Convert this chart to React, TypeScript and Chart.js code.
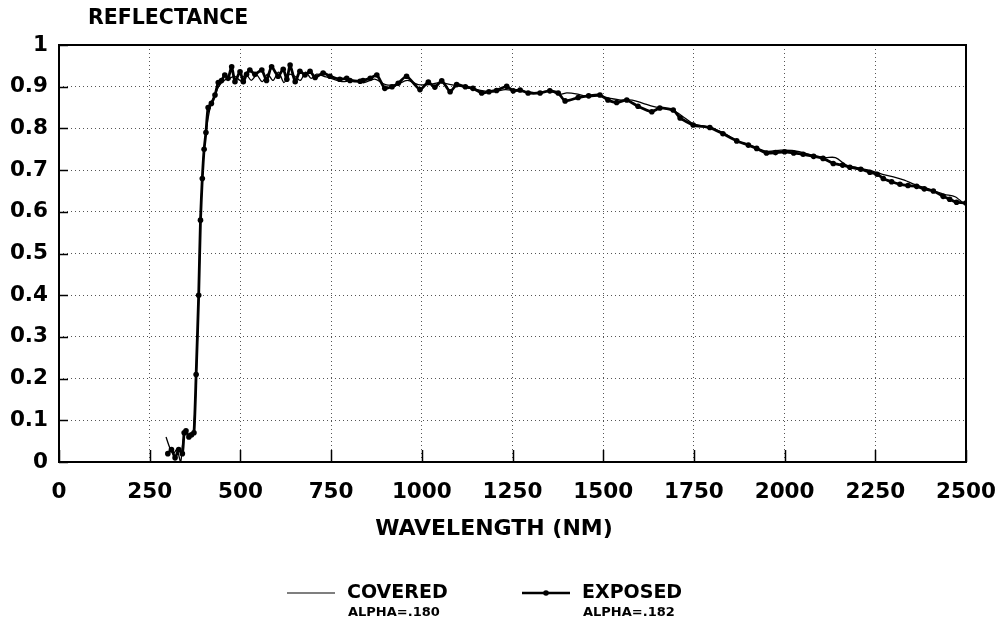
import React, { useEffect, useRef } from "react";
import { Chart, registerables } from "chart.js";

Chart.register(...registerables);

const xTicks = [0, 250, 500, 750, 1000, 1250, 1500, 1750, 2000, 2250, 2500];
const yTicks = [0, 0.1, 0.2, 0.3, 0.4, 0.5, 0.6, 0.7, 0.8, 0.9, 1];

const coveredNm = [
  295, 305, 315, 325, 335, 342, 350, 360, 370, 378, 385, 390, 395, 400, 410, 420, 430, 440, 455, 470,
  485, 500, 515, 530, 545, 560, 575, 590, 605, 620, 635, 650, 665, 680, 695, 710, 730, 750, 780, 810,
  840, 870, 900, 930, 960, 990, 1020, 1050, 1080, 1110, 1140, 1170, 1200, 1230, 1260, 1290, 1320, 1350,
  1380, 1400, 1430, 1460, 1490, 1520, 1550, 1580, 1610, 1640, 1670, 1700, 1725, 1750, 1790, 1830, 1870,
  1910, 1950, 1990, 2020, 2050, 2080, 2110, 2140, 2170, 2200, 2240, 2270, 2300, 2330, 2360, 2400, 2440,
  2470, 2500,
];
const coveredR = [
  0.06, 0.035, 0.02, 0.03, 0.0, 0.05, 0.07, 0.065, 0.07, 0.2, 0.4, 0.58, 0.68, 0.75, 0.82, 0.86, 0.88, 0.9, 0.915, 0.92,
  0.925, 0.915, 0.93, 0.915, 0.928, 0.912, 0.93, 0.915, 0.935, 0.91, 0.93, 0.925, 0.915, 0.935, 0.92, 0.93, 0.925, 0.92, 0.912, 0.915,
  0.91, 0.918, 0.905, 0.905, 0.915, 0.905, 0.905, 0.91, 0.905, 0.9, 0.895, 0.89, 0.888, 0.893, 0.89, 0.888, 0.886, 0.89,
  0.882, 0.885, 0.882, 0.876, 0.878, 0.872, 0.868, 0.868, 0.86, 0.852, 0.848, 0.84, 0.825, 0.81, 0.803, 0.79, 0.77,
  0.757, 0.745, 0.748, 0.747, 0.742, 0.735, 0.73, 0.73, 0.712, 0.706, 0.698, 0.69, 0.684, 0.676, 0.665, 0.654, 0.642,
  0.636, 0.615,
];

const exposedNm = [
  300, 310, 320, 330, 340, 345, 350, 358, 365, 372, 378, 385, 390, 395, 400, 405, 411, 420, 430, 439,
  448, 457, 466, 476, 485, 499, 508, 517, 526, 540, 559, 572, 586, 604, 618, 628, 637, 651, 664, 678,
  692, 706, 728, 747, 774, 793, 802, 830, 838, 858, 876, 898, 918, 935, 958, 995, 1018, 1036, 1055, 1078,
  1096, 1120, 1141, 1165, 1185, 1206, 1234, 1252, 1271, 1293, 1326, 1353, 1376, 1395, 1431, 1460, 1491,
  1513, 1537, 1565, 1596, 1634, 1656, 1693, 1712, 1748, 1794, 1830, 1868, 1900, 1923, 1950, 1975, 2000,
  2025, 2051, 2080, 2106, 2134, 2160, 2180, 2210, 2235, 2255, 2272, 2295, 2318, 2340, 2364, 2385, 2410,
  2437, 2455, 2474, 2500,
];
const exposedR = [
  0.02, 0.03, 0.01, 0.03, 0.02, 0.07, 0.075, 0.06, 0.065, 0.07, 0.21, 0.4, 0.58, 0.68, 0.75, 0.79, 0.85, 0.86, 0.88, 0.91,
  0.915, 0.928, 0.92, 0.948, 0.912, 0.936, 0.912, 0.93, 0.94, 0.93, 0.94, 0.915, 0.948, 0.925, 0.942, 0.918, 0.952, 0.912, 0.937, 0.928,
  0.937, 0.922, 0.933, 0.925, 0.918, 0.92, 0.915, 0.913, 0.915, 0.92, 0.928, 0.896, 0.9, 0.908, 0.925, 0.893, 0.911, 0.899, 0.914, 0.888,
  0.905, 0.9, 0.896, 0.885, 0.888, 0.891, 0.901, 0.89, 0.892, 0.885, 0.885, 0.89, 0.885, 0.866, 0.874, 0.878, 0.88,
  0.868, 0.862, 0.868, 0.853, 0.84, 0.849, 0.844, 0.825, 0.808, 0.802, 0.787, 0.77, 0.76, 0.752, 0.741, 0.742, 0.744,
  0.741, 0.738, 0.733, 0.728, 0.716, 0.712, 0.707, 0.702, 0.695, 0.69, 0.68, 0.672, 0.666, 0.663, 0.661, 0.655, 0.65,
  0.637, 0.63, 0.623, 0.621,
];

const yTitle = "REFLECTANCE";
const xTitle = "WAVELENGTH (NM)";
const legendNames = ["COVERED", "EXPOSED"];
const legendSubs = ["ALPHA=.180", "ALPHA=.182"];

const FONT = "'DejaVu Sans', sans-serif";

const decor = {
  id: "decor",
  afterDraw(chart: any) {
    const { ctx, chartArea } = chart;
    const { left, right, top, bottom } = chartArea;
    const xs = chart.scales.x;
    const ys = chart.scales.y;
    ctx.save();
    ctx.strokeStyle = "#000";
    ctx.lineWidth = 2;
    ctx.strokeRect(left, top, right - left, bottom - top);
    ctx.lineWidth = 1.5;
    xTicks.forEach((v) => {
      const px = Math.round(xs.getPixelForValue(v)) + 0.5;
      ctx.beginPath();
      ctx.moveTo(px, bottom);
      ctx.lineTo(px, bottom - 12);
      ctx.stroke();
    });
    yTicks.forEach((v) => {
      const py = Math.round(ys.getPixelForValue(v)) + 0.5;
      ctx.beginPath();
      ctx.moveTo(left, py);
      ctx.lineTo(left + 9, py);
      ctx.stroke();
    });
    ctx.fillStyle = "#000";
    ctx.font = "bold 20.5px " + FONT;
    ctx.textAlign = "left";
    ctx.textBaseline = "middle";
    ctx.fillText(yTitle, 88, 19);
    ctx.font = "bold 22px " + FONT;
    ctx.textAlign = "center";
    ctx.fillText(xTitle, 494, 529);

    // legend
    const items = [
      { x0: 287, tx: 347, marker: false, lw: 1.2 },
      { x0: 522, tx: 582, marker: true, lw: 2.5 },
    ];
    items.forEach((it, i) => {
      ctx.strokeStyle = "#000";
      ctx.lineWidth = it.lw;
      ctx.beginPath();
      ctx.moveTo(it.x0, 593);
      ctx.lineTo(it.x0 + 48, 593);
      ctx.stroke();
      if (it.marker) {
        ctx.beginPath();
        ctx.arc(it.x0 + 24, 593, 2.8, 0, Math.PI * 2);
        ctx.fill();
      }
      ctx.textAlign = "left";
      ctx.font = "bold 19px " + FONT;
      ctx.fillText(legendNames[i], it.tx, 593);
      ctx.font = "bold 13px " + FONT;
      ctx.fillText(legendSubs[i], it.tx + 1, 613);
    });
    ctx.restore();
  },
};

export default function App() {
  const ref = useRef<HTMLCanvasElement>(null);
  useEffect(() => {
    if (!ref.current) return;
    const chart = new Chart(ref.current, {
      type: "line",
      data: {
        datasets: [
          {
            label: legendNames[0],
            data: coveredNm.map((x, i) => ({ x, y: coveredR[i] })),
            borderColor: "#000",
            borderWidth: 1.3,
            pointRadius: 0,
            tension: 0.3,
          },
          {
            label: legendNames[1],
            data: exposedNm.map((x, i) => ({ x, y: exposedR[i] })),
            borderColor: "#000",
            backgroundColor: "#000",
            borderWidth: 2.8,
            pointRadius: 2.8,
            pointBorderWidth: 0,
            tension: 0.2,
          },
        ],
      },
      options: {
        responsive: false,
        animation: false,
        layout: { padding: { top: 45, right: 36, left: 0, bottom: 0 } },
        plugins: { legend: { display: false }, tooltip: { enabled: false } },
        scales: {
          x: {
            type: "linear",
            min: 0,
            max: 2500,
            afterFit(scale: any) {
              scale.height = 166;
              scale.paddingRight = 0;
              scale.paddingLeft = 0;
            },
            afterBuildTicks(scale: any) {
              scale.ticks = xTicks.map((v) => ({ value: v }));
            },
            ticks: {
              color: "#000",
              font: { family: FONT, size: 21.5, weight: "bold" },
              padding: 18,
              maxRotation: 0,
              autoSkip: false,
              callback: (v: any) => String(v),
            },
            grid: {
              color: "#555",
              lineWidth: 1,
              drawTicks: false,
              tickLength: 0,
            },
            border: { display: false, dash: [1, 3] },
          },
          y: {
            min: 0,
            max: 1,
            afterFit(scale: any) {
              scale.width = 59;
              scale.paddingTop = 0;
              scale.paddingBottom = 0;
            },
            afterBuildTicks(scale: any) {
              scale.ticks = yTicks.map((v) => ({ value: v }));
            },
            ticks: {
              color: "#000",
              font: { family: FONT, size: 21.5, weight: "bold" },
              padding: 11,
              autoSkip: false,
              callback: (v: any) => (v === 0 || v === 1 ? String(v) : Number(v).toFixed(1)),
            },
            grid: {
              color: "#555",
              lineWidth: 1,
              drawTicks: false,
              tickLength: 0,
            },
            border: { display: false, dash: [1, 3] },
          },
        },
      },
      plugins: [decor],
    } as any);
    return () => chart.destroy();
  }, []);
  return (
    <div style={{ position: "absolute", left: 0, top: 0, width: 1002, height: 628, background: "#fff" }}>
      <canvas ref={ref} width={1002} height={628} />
    </div>
  );
}
